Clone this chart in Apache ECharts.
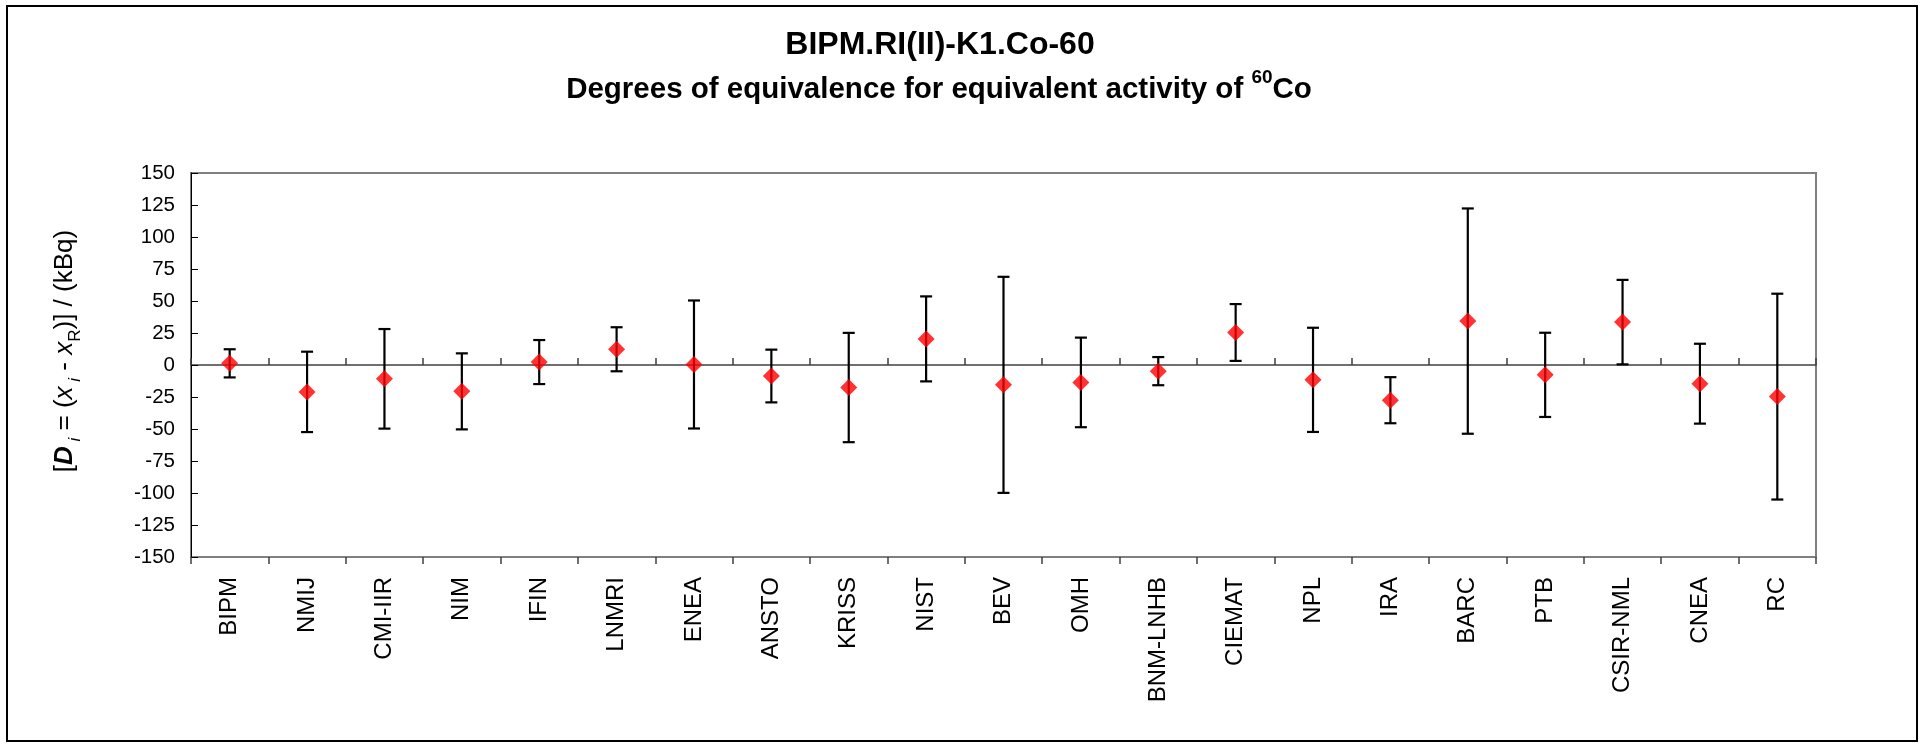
<!DOCTYPE html>
<html>
<head>
<meta charset="utf-8">
<script src="https://cdn.jsdelivr.net/npm/echarts@6/dist/echarts.min.js"></script>
<style>
html,body{margin:0;padding:0;background:#fff;}
#chart{width:1923px;height:747px;}
</style>
</head>
<body>
<div id="chart"></div>
<script>
// ---- data ----
const categories = ['BIPM','NMIJ','CMI-IIR','NIM','IFIN','LNMRI','ENEA','ANSTO','KRISS','NIST','BEV','OMH','BNM-LNHB','CIEMAT','NPL','IRA','BARC','PTB','CSIR-NML','CNEA','RC'];
const values = [1.3, -21.0, -10.8, -20.6, 2.3, 12.3, 0.4, -8.6, -17.6, 20.4, -15.5, -13.6, -4.8, 25.4, -11.6, -27.5, 34.3, -7.7, 33.5, -14.6, -24.7];
const uncertainties = [11.0, 31.4, 38.9, 29.7, 17.2, 17.2, 50.0, 20.6, 42.7, 33.2, 84.4, 35.0, 11.0, 22.2, 40.7, 18.0, 88.0, 32.9, 33.0, 31.2, 80.4];
const yMin = -150, yMax = 150, yInterval = 25;
const titleText = 'BIPM.RI(II)-K1.Co-60';
const subtitleRich = '{t|Degrees of equivalence for equivalent activity of }{sup|60}{t|Co}';
const yNameRich = '{n|[}{db|D}{si| i}{n| = (}{ix|x}{si| i}{n| - }{ix|x}{s|R}{n|)] / (kBq)}';

const FONT = '"Liberation Sans", Arial, Helvetica, sans-serif';

const points = values.map((v, i) => [i, v]);
const bars = values.map((v, i) => [i, v - uncertainties[i], v + uncertainties[i]]);

const chart = echarts.init(document.getElementById('chart'), null, {renderer: 'canvas'});

const option = {
  animation: false,
  backgroundColor: '#ffffff',
  textStyle: {fontFamily: FONT},
  grid: {
    left: 191, top: 173, right: 107, bottom: 190,
    show: true, borderColor: '#808080', borderWidth: 2,
    containLabel: false
  },
  graphic: [
    {type: 'rect', silent: true, z: 0,
     shape: {x: 7, y: 6, width: 1910, height: 735},
     style: {fill: 'none', stroke: '#000', lineWidth: 2}},
    {type: 'text', silent: true, x: 940, y: 45,
     style: {text: titleText, fontSize: 32, fontWeight: 'bold', fontFamily: FONT, fill: '#000', align: 'center', verticalAlign: 'middle'}},
    {type: 'text', silent: true, x: 939, y: 90,
     style: {text: subtitleRich, fontFamily: FONT, fill: '#000', align: 'center', verticalAlign: 'middle',
       rich: {
         t: {fontSize: 29.5, fontWeight: 'bold', fontFamily: FONT, lineHeight: 44, fill: '#000'},
         sup: {fontSize: 19, fontWeight: 'bold', fontFamily: FONT, lineHeight: 19, verticalAlign: 'top', fill: '#000'}
       }}}
  ],
  xAxis: [
    {
      type: 'category', data: categories, position: 'bottom',
      axisLine: {show: false, onZero: false},
      axisTick: {show: false},
      axisLabel: {rotate: 90, margin: 20, fontSize: 24, color: '#000', fontFamily: FONT, interval: 0},
      splitLine: {show: false}
    },
    {
      type: 'category', data: categories, position: 'bottom',
      axisLine: {show: true, onZero: true, lineStyle: {color: '#404040', width: 1.5}},
      axisTick: {show: true, inside: true, length: 7, interval: 0, lineStyle: {color: '#404040', width: 1.5}},
      axisLabel: {show: false},
      splitLine: {show: false}
    },
    {
      type: 'category', data: categories, position: 'bottom',
      axisLine: {show: false, onZero: true},
      axisTick: {show: true, inside: false, length: 7, interval: 0, lineStyle: {color: '#404040', width: 1.5}},
      axisLabel: {show: false},
      splitLine: {show: false}
    }
  ],
  yAxis: {
    type: 'value', min: yMin, max: yMax, interval: yInterval,
    axisLine: {show: true, lineStyle: {color: '#000', width: 1}},
    axisTick: {show: true, inside: true, length: 7, lineStyle: {color: '#000', width: 1}},
    axisLabel: {margin: 16, fontSize: 20.5, color: '#000', fontFamily: FONT},
    splitLine: {show: false},
    name: yNameRich, nameLocation: 'middle', nameRotate: 90, nameGap: 107,
    nameTextStyle: {
      fontSize: 26, color: '#000', fontFamily: FONT, padding: [0, 0, 0, 28],
      rich: {
        n: {fontSize: 26, lineHeight: 38, fontFamily: FONT, color: '#000'},
        db: {fontSize: 26, lineHeight: 38, fontWeight: 'bold', fontStyle: 'italic', fontFamily: FONT, color: '#000'},
        ix: {fontSize: 26, lineHeight: 38, fontStyle: 'italic', fontFamily: FONT, color: '#000'},
        si: {fontSize: 17, lineHeight: 17, fontStyle: 'italic', verticalAlign: 'bottom', fontFamily: FONT, color: '#000'},
        s: {fontSize: 17, lineHeight: 17, verticalAlign: 'bottom', fontFamily: FONT, color: '#000'}
      }
    }
  },
  series: [
    {
      type: 'custom', xAxisIndex: 0, yAxisIndex: 0, z: 3,
      data: bars,
      encode: {x: 0, y: [1, 2]},
      renderItem: function (params, api) {
        const x = api.value(0);
        const lo = api.coord([x, api.value(1)]);
        const hi = api.coord([x, api.value(2)]);
        const hw = 6;
        const st = {stroke: '#000', lineWidth: 2.2};
        return {
          type: 'group',
          children: [
            {type: 'line', shape: {x1: lo[0], y1: lo[1], x2: hi[0], y2: hi[1]}, style: st},
            {type: 'line', shape: {x1: lo[0] - hw, y1: lo[1], x2: lo[0] + hw, y2: lo[1]}, style: st},
            {type: 'line', shape: {x1: hi[0] - hw, y1: hi[1], x2: hi[0] + hw, y2: hi[1]}, style: st}
          ]
        };
      }
    },
    {
      type: 'scatter', xAxisIndex: 0, yAxisIndex: 0, z: 4,
      data: points,
      symbol: 'diamond', symbolSize: 17,
      itemStyle: {color: '#ff0000'}
    }
  ]
};
chart.setOption(option);
</script>
</body>
</html>
